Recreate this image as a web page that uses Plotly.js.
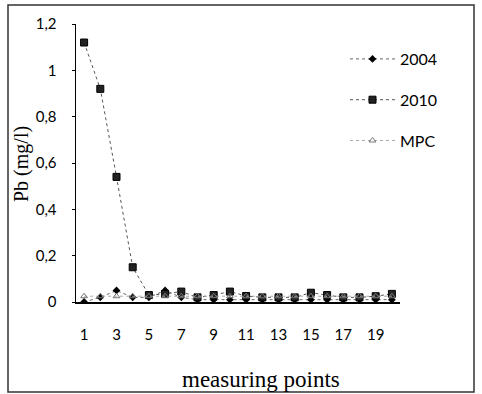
<!DOCTYPE html>
<html>
<head>
<meta charset="utf-8">
<script src="https://cdn.plot.ly/plotly-3.0.1.min.js"></script>
<style>html,body{margin:0;padding:0;background:#fff;}#chart{width:482px;height:394px;}</style>
</head>
<body>
<div id="chart"></div>
<script>
// Data
const points = [1,2,3,4,5,6,7,8,9,10,11,12,13,14,15,16,17,18,19,20];
const pb2004 = [0.0,0.02,0.05,0.02,0.02,0.05,0.02,0.01,0.01,0.01,0.01,0.01,0.01,0.01,0.01,0.01,0.01,0.01,0.01,0.01];
const pb2010 = [1.12,0.92,0.54,0.15,0.03,0.035,0.045,0.02,0.03,0.045,0.026,0.02,0.02,0.02,0.04,0.03,0.02,0.02,0.025,0.035];
const mpc = [0.025,0.025,0.025,0.025,0.025,0.025,0.025,0.025,0.025,0.025,0.025,0.025,0.025,0.025,0.025,0.025,0.025,0.025,0.025,0.025];
const xTickVals = [1,3,5,7,9,11,13,15,17,19];
const xTickText = ["1","3","5","7","9","11","13","15","17","19"];
const yTickVals = [0,0.2,0.4,0.6,0.8,1,1.2];
const yTickText = ["0","0,2","0,4","0,6","0,8","1","1,2"];

const sans = "Lato, 'Liberation Sans', sans-serif";
const serif = "'Liberation Serif', 'DejaVu Serif', serif";

const traces = [
  {x: points, y: pb2004, name: "2004", mode: "lines+markers", legendgroup: "a",
   line: {color: "#666", width: 1, dash: "dot"},
   marker: {symbol: "diamond", size: 6, color: "#000"}},
  {x: points, y: pb2010, name: "2010", mode: "lines+markers", legendgroup: "b",
   line: {color: "#555", width: 1, dash: "dot"},
   marker: {symbol: "square", size: 7, color: "#222", line: {color: "#000", width: 1}}},
  {x: points, y: mpc, name: "MPC", mode: "lines+markers", legendgroup: "c",
   line: {color: "#aaa", width: 1, dash: "dot"},
   marker: {symbol: "triangle-up-open", size: 6, color: "#777", line: {width: 1}}}
];

const L = 76, R = 82, T = 24, B = 92, W = 482, H = 394;
const pw = W - L - R, ph = H - T - B;
const px = v => (v - L) / pw;
const py = v => (H - B - v) / ph;

const layout = {
  width: W, height: H,
  margin: {l: L, r: R, t: T, b: B, pad: 0},
  paper_bgcolor: "#fff", plot_bgcolor: "#fff",
  showlegend: true,
  legend: {x: px(345), y: py(42), xanchor: "left", yanchor: "top",
    font: {family: sans, size: 16, color: "#000"},
    itemwidth: 45,
    traceorder: "grouped", tracegroupgap: 17, bgcolor: "rgba(0,0,0,0)"},
  xaxis: {range: [0.5, 20.5], tickmode: "array", tickvals: xTickVals, ticktext: xTickText,
    showgrid: false, zeroline: false, showline: true, linecolor: "#000", linewidth: 1.5,
    ticks: "", ticklabelstandoff: 18, tickfont: {family: sans, size: 15, color: "#000"}},
  yaxis: {range: [0, 1.2], tickmode: "array", tickvals: yTickVals, ticktext: yTickText,
    showgrid: false, zeroline: false, showline: true, linecolor: "#000", linewidth: 1.5,
    ticks: "outside", ticklen: 3, tickcolor: "#000", ticklabelstandoff: 12,
    tickfont: {family: sans, size: 15, color: "#000"}},
  annotations: [
    {text: "measuring points", xref: "paper", yref: "paper", x: px(261), y: py(379),
     xanchor: "center", yanchor: "middle", showarrow: false,
     font: {family: serif, size: 23, color: "#000"}},
    {text: "Pb (mg/l)", xref: "paper", yref: "paper", x: px(21), y: py(164),
     xanchor: "center", yanchor: "middle", showarrow: false, textangle: -90,
     font: {family: serif, size: 20, color: "#000"}}
  ],
  shapes: [
    {type: "rect", xref: "paper", yref: "paper", x0: px(8), x1: px(474), y0: py(392), y1: py(5),
     line: {color: "#333", width: 1.5}}
  ]
};

Plotly.newPlot("chart", traces, layout, {staticPlot: true, displayModeBar: false});
</script>
</body>
</html>
